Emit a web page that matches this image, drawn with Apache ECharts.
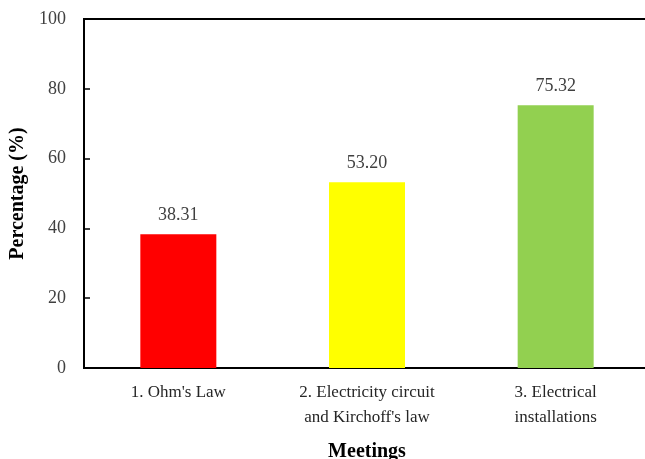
<!DOCTYPE html>
<html>
<head>
<meta charset="utf-8">
<script src="https://cdn.jsdelivr.net/npm/echarts@6/dist/echarts.min.js"></script>
<style>
  html,body{margin:0;padding:0;background:#fff;}
  #main{width:645px;height:459px;}
</style>
</head>
<body>
<div id="main"></div>
<script>
  // 会议名称
  var meetings=["1. Ohm's Law","2. Electricity circuit\nand Kirchoff's law","3. Electrical\ninstallations"];
  // 百分比
  var percentages=[38.31,53.20,75.32];
  var barColors=["#ff0000","#ffff00","#92d050"];
  var font="'Liberation Serif', 'Times New Roman', serif";

  var chart=echarts.init(document.getElementById("main"));
  chart.setOption({
    animation:false,
    grid:{
      left:84,
      right:-5,
      top:19,
      bottom:91,
      outerBoundsMode:"none",
      containLabel:false,
      show:true,
      borderColor:"#000",
      borderWidth:2
    },
    xAxis:{
      type:"category",
      data:meetings,
      name:"Meetings",
      nameLocation:"middle",
      nameGap:74,
      nameTextStyle:{fontFamily:font,fontSize:20,fontWeight:"bold",color:"#000"},
      axisLine:{lineStyle:{color:"#000",width:2}},
      axisTick:{show:false},
      axisLabel:{fontFamily:font,fontSize:17,color:"#262626",margin:12,lineHeight:25}
    },
    yAxis:{
      type:"value",
      min:0,
      max:100,
      interval:20,
      name:"Percentage (%)",
      nameLocation:"middle",
      nameGap:55,
      nameTextStyle:{fontFamily:font,fontSize:20,fontWeight:"bold",color:"#000"},
      axisLine:{show:true,lineStyle:{color:"#000",width:2}},
      axisTick:{show:true,inside:true,length:6,lineStyle:{color:"#000",width:1.5}},
      splitLine:{show:false},
      axisLabel:{fontFamily:font,fontSize:18,color:"#404040",margin:18}
    },
    series:[{
      type:"bar",
      barWidth:76,
      data:percentages.map(function(v,i){
        return {value:v,itemStyle:{color:barColors[i]}};
      }),
      label:{
        show:true,
        position:"top",
        distance:10,
        fontFamily:font,
        fontSize:18,
        color:"#404040",
        formatter:function(p){return p.value.toFixed(2);}
      }
    }]
  });
</script>
</body>
</html>
